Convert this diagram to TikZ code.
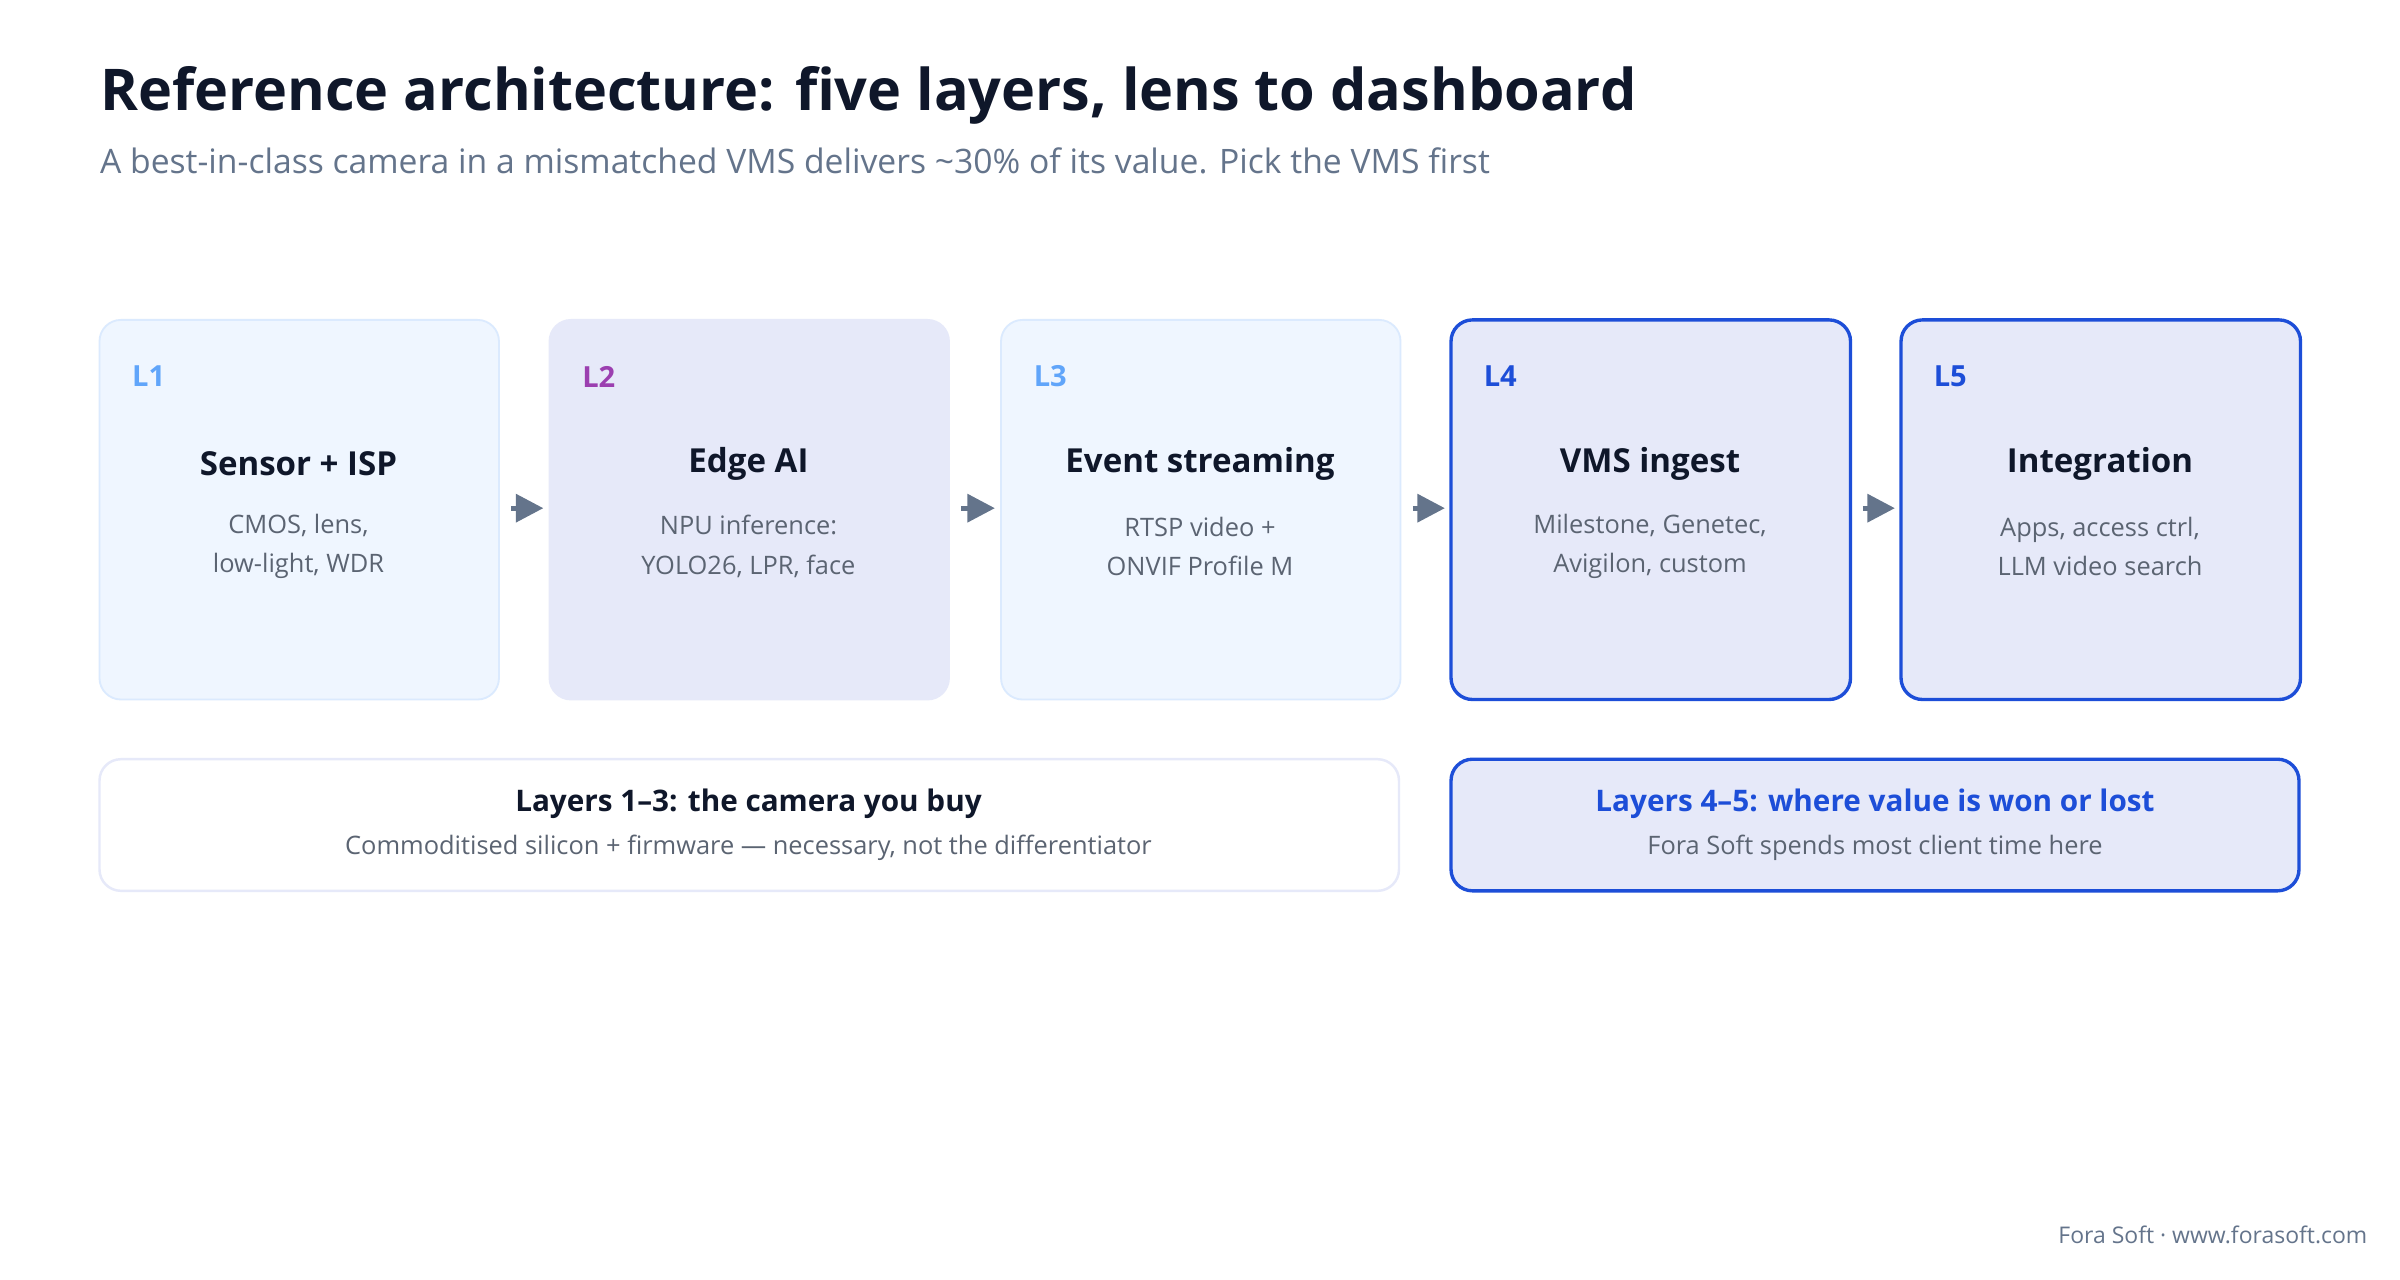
\documentclass[tikz,border=0pt]{standalone}
\usepackage{fontspec}
\setmainfont{Open Sans}
\usetikzlibrary{arrows.meta}
\definecolor{ink}{HTML}{0F172A}
\definecolor{slate}{HTML}{64748B}
\definecolor{bodyc}{HTML}{5B6472}
\definecolor{paleblue}{HTML}{EFF6FF}
\definecolor{paleborder}{HTML}{DBEAFE}
\definecolor{indig}{HTML}{E6E9F9}
\definecolor{blue}{HTML}{1D4ED8}
\definecolor{lblue}{HTML}{60A5FA}
\definecolor{purp}{HTML}{9B3FB0}
\begin{document}
\begin{tikzpicture}[x=0.5pt,y=-0.5pt,
 box/.style={rounded corners=7pt,line width=0.6pt},
 light/.style={box,fill=paleblue,draw=paleborder},
 mid/.style={box,fill=indig,draw=indig},
 strong/.style={box,fill=indig,draw=blue,line width=1.1pt},
 lab/.style={anchor=west,inner sep=0pt,font=\fontsize{9.5}{11}\selectfont\bfseries},
 head/.style={font=\fontsize{10.8}{13}\selectfont\bfseries,text=ink},
 body/.style={font=\fontsize{8.3}{13}\selectfont,text=bodyc,align=center},
 arr/.style={draw=slate,line width=1.6pt,-{Triangle[length=9pt,width=9pt]}}]
\useasboundingbox (0,0) rectangle (1568,836);
\fill[white] (0,0) rectangle (1568,836);
\node[anchor=west,inner sep=0pt,text=ink,font=\fontsize{18.8}{22}\selectfont\bfseries] (title) at (65,62) {Reference architecture: five layers, lens to dashboard};
\node[anchor=west,inner sep=0pt,text=slate,font=\fontsize{11}{13}\selectfont] (sub) at (65,105) {A best-in-class camera in a mismatched VMS delivers \textasciitilde30\% of its value. Pick the VMS first};
\foreach \n/\x/\st/\lc/\L/\h/\a/\b in {
 b1/65/light/lblue/L1/Sensor + ISP/{CMOS, lens,}/{low-light, WDR},
 b2/359/mid/purp/L2/Edge AI/{NPU inference:}/{YOLO26, LPR, face},
 b3/654/light/lblue/L3/Event streaming/{RTSP video +}/{ONVIF Profile M},
 b4/948/strong/blue/L4/VMS ingest/{Milestone, Genetec,}/{Avigilon, custom},
 b5/1242/strong/blue/L5/Integration/{Apps, access ctrl,}/{LLM video search}}{
 \draw[\st] (\x,209) rectangle ++(261,248);
 \coordinate (\n w) at (\x,332); \coordinate (\n e) at (\x+261,332);
 \node[lab,text=\lc] (\n l) at (\x+21,246) {\L};
 \node[head] (\n h) at (\x+130,303) {\h};
 \node[body] (\n b) at (\x+130,357) {\a\\\b};
}
\foreach \p/\q in {b1/b2,b2/b3,b3/b4,b4/b5}{
 \draw[arr] ([xshift=4]\p e) -- ([xshift=-2]\q w);
}
\draw[box,fill=white,draw=indig,line width=0.8pt] (65,496) rectangle (914,582);
\node[font=\fontsize{9.7}{12}\selectfont\bfseries,text=ink] (c1) at (489,525) {Layers 1–3: the camera you buy};
\node[body] (c2) at (489,554) {Commoditised silicon + firmware — necessary, not the differentiator};
\draw[strong] (948,496) rectangle (1502,582);
\node[font=\fontsize{9.7}{12}\selectfont\bfseries,text=blue] (d1) at (1225,525) {Layers 4–5: where value is won or lost};
\node[body] (d2) at (1225,554) {Fora Soft spends most client time here};
\node[anchor=east,inner sep=0pt,text=slate,font=\fontsize{7.5}{9}\selectfont] (foot) at (1547,807) {Fora Soft · www.forasoft.com};
\end{tikzpicture}
\end{document}
